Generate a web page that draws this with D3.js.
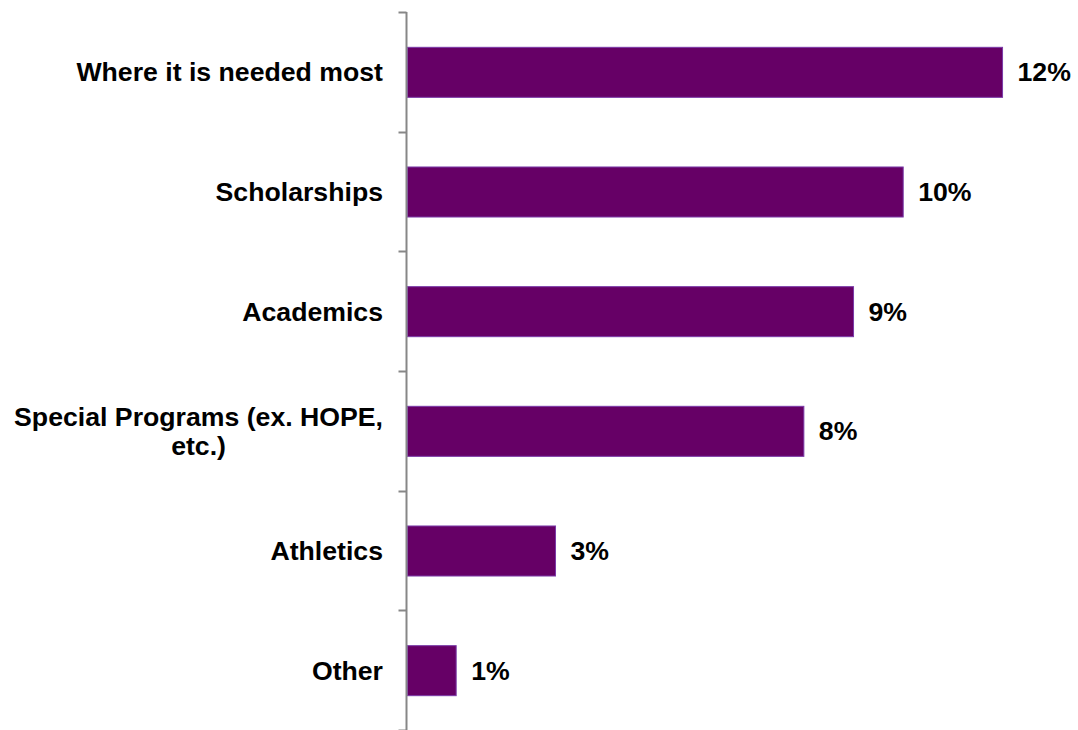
<!DOCTYPE html>
<html><head><meta charset="utf-8">
<script src="https://cdn.jsdelivr.net/npm/d3@7"></script>
<style>body{margin:0;background:#fff}svg{display:block}</style>
</head><body>
<svg id="c" width="1078" height="730"></svg>
<script>
const categories = ["Where it is needed most", "Scholarships", "Academics", "Special Programs (ex. HOPE, etc.)", "Athletics", "Other"];
const categoryLines = [["Where it is needed most"], ["Scholarships"], ["Academics"], ["Special Programs (ex. HOPE,", "etc.)"], ["Athletics"], ["Other"]];
const values = [12, 10, 9, 8, 3, 1];
const valueLabels = ["12%", "10%", "9%", "8%", "3%", "1%"];

const svg = d3.select("#c");
const axisX = 406.5;
const x = d3.scaleLinear().domain([0, 14]).range([axisX, axisX + 14 * 49.67]);
const y = d3.scaleBand().domain(categories).range([12, 730]).paddingInner(0.582).paddingOuter(0.291);

// bars
svg.selectAll("rect.bar").data(values).enter().append("rect")
  .attr("class", "bar")
  .attr("x", x(0) + 1)
  .attr("y", (d, i) => y(categories[i]) + 0.5)
  .attr("width", d => x(d) - x(0) - 1)
  .attr("height", y.bandwidth())
  .attr("fill", "#660066")
  .attr("stroke", "#7a3aa8")
  .attr("stroke-width", 1);

// axis
const step = y.step();
const tickYs = d3.range(categories.length + 1).map(i => 12 + i * step);
svg.append("line").attr("x1", axisX).attr("x2", axisX).attr("y1", 12).attr("y2", 730)
  .attr("stroke", "#878787").attr("stroke-width", 2);
svg.selectAll("line.tick").data(tickYs).enter().append("line")
  .attr("class", "tick")
  .attr("x1", axisX - 8).attr("x2", axisX)
  .attr("y1", d => Math.round(d) + 0.5).attr("y2", d => Math.round(d) + 0.5)
  .attr("stroke", "#878787").attr("stroke-width", 2);

// category labels
const font = "'Liberation Sans', Arial, sans-serif";
const fs = 26.67;
categoryLines.forEach((lines, i) => {
  const cy = y(categories[i]) + y.bandwidth() / 2;
  const lh = 29;
  const g = svg.append("text")
    .attr("font-family", font).attr("font-weight", "bold").attr("font-size", fs)
    .attr("fill", "#000");
  if (lines.length === 1) {
    g.attr("text-anchor", "end").attr("x", 383).attr("y", cy).attr("dy", "0.35em").text(lines[0]);
  } else {
    const tmp = svg.append("text").attr("font-family", font).attr("font-weight", "bold").attr("font-size", fs).text(lines[0]);
    const w = tmp.node().getComputedTextLength();
    tmp.remove();
    const cx = 383 - w / 2;
    g.attr("text-anchor", "middle");
    lines.forEach((l, j) => {
      g.append("tspan").attr("x", cx).attr("y", cy + (j - (lines.length - 1) / 2) * lh).attr("dy", "0.35em").text(l);
    });
  }
});

// value labels
svg.selectAll("text.val").data(values).enter().append("text")
  .attr("class", "val")
  .attr("x", d => x(d) + 15)
  .attr("y", (d, i) => y(categories[i]) + y.bandwidth() / 2)
  .attr("dy", "0.35em")
  .attr("font-family", font).attr("font-weight", "bold").attr("font-size", fs)
  .attr("fill", "#000")
  .text((d, i) => valueLabels[i]);
</script>
</body></html>
